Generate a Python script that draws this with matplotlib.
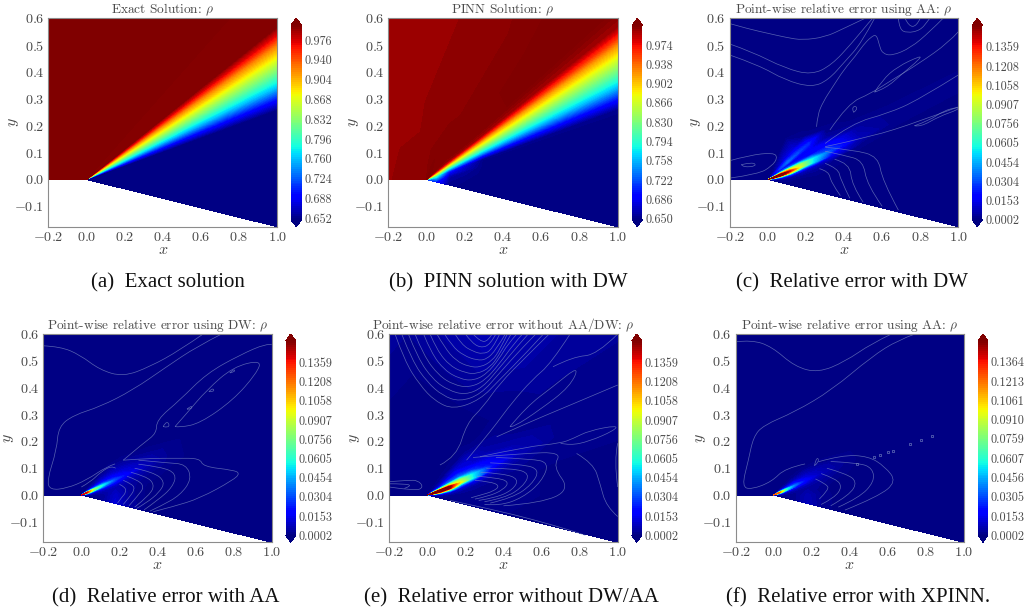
import matplotlib

matplotlib.use("Agg")
import matplotlib.pyplot as plt
from matplotlib.patches import PathPatch
from matplotlib.path import Path
import numpy as np

plt.rcParams["font.family"] = ["cmr10", "DejaVu Serif"]
plt.rcParams["mathtext.fontset"] = "cm"
plt.rcParams["axes.formatter.use_mathtext"] = True
plt.rcParams["axes.unicode_minus"] = False

FIG_W, FIG_H = 1025, 610
TEXT_GREY = "#4a4a4a"
SPINE_GREY = "#8c8c8c"
LINE_BLUE = "#7d8cc4"

X_TICKS = [-0.2, 0.0, 0.2, 0.4, 0.6, 0.8, 1.0]
Y_TICKS = [-0.1, 0.0, 0.1, 0.2, 0.3, 0.4, 0.5, 0.6]

TITLES = [
    "Exact Solution: $\\rho$",
    "PINN Solution: $\\rho$",
    "Point-wise relative error using AA: $\\rho$",
    "Point-wise relative error using DW: $\\rho$",
    "Point-wise relative error without AA/DW: $\\rho$",
    "Point-wise relative error using AA: $\\rho$",
]
CAPTIONS = [
    "(a)  Exact solution",
    "(b)  PINN solution with DW",
    "(c)  Relative error with DW",
    "(d)  Relative error with AA",
    "(e)  Relative error without DW/AA",
    "(f)  Relative error with XPINN.",
]

CBAR_A = ["0.652", "0.688", "0.724", "0.760", "0.796", "0.832", "0.868", "0.904", "0.940", "0.976"]
CBAR_B = ["0.650", "0.686", "0.722", "0.758", "0.794", "0.830", "0.866", "0.902", "0.938", "0.974"]
CBAR_ERR = ["0.0002", "0.0153", "0.0304", "0.0454", "0.0605", "0.0756", "0.0907", "0.1058", "0.1208", "0.1359"]
CBAR_F = ["0.0002", "0.0153", "0.0305", "0.0456", "0.0607", "0.0759", "0.0910", "0.1061", "0.1213", "0.1364"]

# colour range of each panel
V_RANGE = [(0.649, 1.003), (0.648, 1.011), (0.0, 0.153), (0.0, 0.153), (0.0, 0.153), (0.0, 0.153)]

# density against angle round the wedge tip (degrees), panel a
EXACT_ANGLES = [-10, 14.6, 16.4, 19, 21.8, 24.2, 26.6, 27.9, 29.7, 60, 100, 140, 180]
EXACT_RHO = [0.652, 0.652, 0.69, 0.76, 0.82, 0.87, 0.92, 0.96, 1.0, 1.01, 1.01, 1.01, 1.01]

# panel b, rows are radii, columns angles
PINN_RADII = [0, 0.05, 0.12, 0.3, 0.7, 2]
PINN_ANGLES = [-10, 5, 10, 14.6, 16.4, 19, 21.8, 24.2, 26.6, 27.9, 29.7, 33, 40, 60, 100, 140, 180]
PINN_RHO = [
    [0.72, 0.78, 0.8, 0.82, 0.84, 0.86, 0.88, 0.9, 0.93, 0.95, 0.97, 1.0, 1.01, 1.012, 1.004, 1.004, 1.004],
    [0.7, 0.75, 0.78, 0.8, 0.82, 0.85, 0.87, 0.9, 0.93, 0.95, 0.97, 1.0, 1.01, 1.012, 1.004, 1.004, 1.004],
    [0.652, 0.66, 0.68, 0.71, 0.74, 0.78, 0.83, 0.875, 0.92, 0.95, 0.98, 1.005, 1.01, 1.01, 1.004, 1.004, 1.004],
    [0.65, 0.65, 0.65, 0.652, 0.69, 0.76, 0.82, 0.87, 0.92, 0.96, 1.0, 1.01, 1.01, 1.006, 1.003, 1.003, 1.003],
    [0.65, 0.65, 0.65, 0.652, 0.69, 0.76, 0.82, 0.87, 0.92, 0.96, 1.0, 1.012, 1.012, 1.004, 1.003, 1.003, 1.003],
    [0.65, 0.65, 0.65, 0.652, 0.69, 0.76, 0.82, 0.87, 0.92, 0.96, 1.0, 1.012, 1.012, 1.01, 1.003, 1.003, 1.003],
]

# relative error, panels c to f share this polar grid
ERR_RADII = [0, 0.03, 0.07, 0.12, 0.18, 0.25, 0.35, 0.5, 0.7, 2]
ERR_ANGLES = [-10, 0, 5, 9, 12, 15, 18, 22, 27, 32, 40, 60, 100, 180]
ERR_C = [
    [0.0004, 0.02, 0.06, 0.14, 0.16, 0.16, 0.08, 0.02, 0.006, 0.003, 0.0004, 0.0004, 0.0004, 0.0004],
    [0.0004, 0.01, 0.04, 0.12, 0.165, 0.165, 0.09, 0.03, 0.012, 0.012, 0.003, 0.0004, 0.0004, 0.0004],
    [0.0004, 0.003, 0.015, 0.07, 0.155, 0.165, 0.12, 0.04, 0.014, 0.026, 0.008, 0.0004, 0.0004, 0.0004],
    [0.0004, 0.002, 0.005, 0.03, 0.1, 0.14, 0.1, 0.035, 0.014, 0.035, 0.014, 0.0004, 0.0004, 0.0004],
    [0.0004, 0.0004, 0.003, 0.008, 0.03, 0.09, 0.085, 0.025, 0.012, 0.03, 0.012, 0.0004, 0.0004, 0.0004],
    [0.0004, 0.0004, 0.002, 0.004, 0.01, 0.05, 0.055, 0.02, 0.016, 0.025, 0.002, 0.0004, 0.0004, 0.0004],
    [0.0004, 0.0004, 0.0004, 0.002, 0.003, 0.015, 0.03, 0.02, 0.004, 0.002, 0.0004, 0.0004, 0.0004, 0.0004],
    [0.0004, 0.0004, 0.0004, 0.0004, 0.001, 0.002, 0.008, 0.005, 0.001, 0.0004, 0.0004, 0.0004, 0.0004, 0.0004],
    [0.0004, 0.0004, 0.0004, 0.0004, 0.0004, 0.001, 0.002, 0.002, 0.0004, 0.0004, 0.0004, 0.0004, 0.0004, 0.0004],
    [0.0004, 0.0004, 0.0004, 0.0004, 0.0004, 0.0004, 0.0004, 0.0004, 0.0004, 0.0004, 0.0004, 0.0004, 0.0004, 0.0004],
]
ERR_D = [
    [0.0004, 0.01, 0.03, 0.07, 0.12, 0.15, 0.14, 0.06, 0.01, 0.003, 0.0004, 0.0004, 0.0004, 0.0004],
    [0.0004, 0.005, 0.015, 0.04, 0.08, 0.13, 0.14, 0.06, 0.012, 0.004, 0.0004, 0.0004, 0.0004, 0.0004],
    [0.0004, 0.002, 0.006, 0.012, 0.03, 0.065, 0.08, 0.03, 0.01, 0.004, 0.0004, 0.0004, 0.0004, 0.0004],
    [0.004, 0.004, 0.005, 0.008, 0.015, 0.035, 0.055, 0.025, 0.012, 0.006, 0.0004, 0.0004, 0.0004, 0.0004],
    [0.012, 0.01, 0.008, 0.007, 0.01, 0.02, 0.032, 0.018, 0.01, 0.005, 0.0004, 0.0004, 0.0004, 0.0004],
    [0.005, 0.004, 0.004, 0.004, 0.006, 0.01, 0.018, 0.012, 0.006, 0.002, 0.0004, 0.0004, 0.0004, 0.0004],
    [0.001, 0.001, 0.001, 0.002, 0.003, 0.005, 0.008, 0.006, 0.002, 0.0004, 0.0004, 0.0004, 0.0004, 0.0004],
    [0.0004, 0.0004, 0.0004, 0.0004, 0.001, 0.002, 0.002, 0.002, 0.0004, 0.0004, 0.0004, 0.0004, 0.0004, 0.0004],
    [0.0004, 0.0004, 0.0004, 0.0004, 0.0004, 0.0004, 0.0004, 0.0004, 0.0004, 0.0004, 0.0004, 0.0004, 0.0004, 0.0004],
    [0.0004, 0.0004, 0.0004, 0.0004, 0.0004, 0.0004, 0.0004, 0.0004, 0.0004, 0.0004, 0.0004, 0.0004, 0.0004, 0.0004],
]
ERR_E = [
    [0.0004, 0.02, 0.1, 0.16, 0.17, 0.15, 0.08, 0.02, 0.008, 0.003, 0.0004, 0.0004, 0.0004, 0.0004],
    [0.0004, 0.012, 0.07, 0.15, 0.17, 0.16, 0.09, 0.03, 0.01, 0.004, 0.002, 0.0004, 0.0004, 0.0004],
    [0.0004, 0.005, 0.03, 0.13, 0.165, 0.16, 0.09, 0.03, 0.012, 0.006, 0.002, 0.0004, 0.0004, 0.0004],
    [0.0004, 0.002, 0.01, 0.06, 0.15, 0.155, 0.09, 0.035, 0.02, 0.01, 0.002, 0.0004, 0.0004, 0.0004],
    [0.002, 0.002, 0.004, 0.012, 0.04, 0.1, 0.085, 0.035, 0.02, 0.012, 0.002, 0.0004, 0.0004, 0.0004],
    [0.002, 0.002, 0.003, 0.005, 0.015, 0.055, 0.055, 0.025, 0.012, 0.01, 0.002, 0.0004, 0.0004, 0.0004],
    [0.002, 0.002, 0.002, 0.003, 0.005, 0.012, 0.022, 0.015, 0.006, 0.004, 0.001, 0.001, 0.0004, 0.0004],
    [0.001, 0.002, 0.002, 0.002, 0.003, 0.004, 0.008, 0.006, 0.003, 0.002, 0.002, 0.004, 0.002, 0.0004],
    [0.0004, 0.001, 0.001, 0.001, 0.002, 0.002, 0.003, 0.003, 0.003, 0.003, 0.004, 0.008, 0.004, 0.002],
    [0.0004, 0.001, 0.001, 0.001, 0.001, 0.001, 0.002, 0.002, 0.003, 0.004, 0.006, 0.008, 0.004, 0.002],
]
ERR_F = [
    [0.0004, 0.008, 0.02, 0.05, 0.1, 0.13, 0.12, 0.05, 0.008, 0.002, 0.0004, 0.0004, 0.0004, 0.0004],
    [0.0004, 0.004, 0.012, 0.03, 0.065, 0.115, 0.125, 0.05, 0.01, 0.003, 0.0004, 0.0004, 0.0004, 0.0004],
    [0.0004, 0.002, 0.004, 0.008, 0.02, 0.05, 0.06, 0.025, 0.008, 0.003, 0.0004, 0.0004, 0.0004, 0.0004],
    [0.003, 0.003, 0.003, 0.005, 0.01, 0.022, 0.035, 0.02, 0.008, 0.003, 0.0004, 0.0004, 0.0004, 0.0004],
    [0.008, 0.007, 0.005, 0.004, 0.006, 0.012, 0.018, 0.012, 0.006, 0.002, 0.0004, 0.0004, 0.0004, 0.0004],
    [0.003, 0.003, 0.002, 0.003, 0.004, 0.006, 0.009, 0.007, 0.003, 0.0004, 0.0004, 0.0004, 0.0004, 0.0004],
    [0.0004, 0.0004, 0.0004, 0.0004, 0.002, 0.003, 0.004, 0.003, 0.0004, 0.0004, 0.0004, 0.0004, 0.0004, 0.0004],
    [0.0004, 0.0004, 0.0004, 0.0004, 0.0004, 0.0004, 0.0004, 0.0004, 0.0004, 0.0004, 0.0004, 0.0004, 0.0004, 0.0004],
    [0.0004, 0.0004, 0.0004, 0.0004, 0.0004, 0.0004, 0.0004, 0.0004, 0.0004, 0.0004, 0.0004, 0.0004, 0.0004, 0.0004],
    [0.0004, 0.0004, 0.0004, 0.0004, 0.0004, 0.0004, 0.0004, 0.0004, 0.0004, 0.0004, 0.0004, 0.0004, 0.0004, 0.0004],
]

# thin contour lines, (x, y)
LINES_C = [
    [(-0.2, 0.58), (-0.1, 0.56), (0, 0.544), (0.1, 0.528), (0.18, 0.519), (0.3, 0.53), (0.4, 0.563), (0.51, 0.6)],
    [(-0.2, 0.504), (-0.086, 0.476), (0.089, 0.414), (0.229, 0.389), (0.334, 0.426), (0.44, 0.507), (0.536, 0.59), (0.55, 0.6)],
    [(-0.2, 0.463), (-0.05, 0.426), (0.089, 0.37), (0.229, 0.343), (0.317, 0.37), (0.404, 0.439), (0.49, 0.507), (0.56, 0.6)],
    [(0.685, 0.6), (0.69, 0.56), (0.73, 0.545), (0.8, 0.555), (0.84, 0.59), (0.85, 0.6)],
    [(0.72, 0.6), (0.74, 0.57), (0.78, 0.57), (0.8, 0.6)],
    [(0.255, 0.196), (0.26, 0.24), (0.29, 0.29), (0.34, 0.345), (0.4, 0.41), (0.46, 0.46), (0.5, 0.5), (0.54, 0.53), (0.57, 0.54),
     (0.585, 0.5), (0.6, 0.47), (0.65, 0.46), (0.75, 0.49), (0.85, 0.55), (0.92, 0.6)],
    [(0.325, 0.184), (0.42, 0.283), (0.54, 0.32), (0.65, 0.37), (0.79, 0.43), (0.95, 0.51), (1.0, 0.55)],
    [(0.45, 0.25), (0.47, 0.26), (0.46, 0.275), (0.44, 0.265), (0.45, 0.25)],
    [(0.56, 0.325), (0.6, 0.37), (0.68, 0.42), (0.8, 0.46), (0.8, 0.45), (0.7, 0.39), (0.62, 0.34), (0.56, 0.325)],
    [(0.3, 0.134), (0.44, 0.209), (0.63, 0.246), (0.79, 0.296), (1.0, 0.389)],
    [(0.77, 0.2), (0.85, 0.22), (0.92, 0.255), (1.0, 0.27), (1.0, 0.26), (0.9, 0.235), (0.8, 0.195), (0.77, 0.2)],
    [(0.3, 0.122), (0.545, 0.159), (0.79, 0.215), (1.0, 0.27)],
    [(0.685, -0.114), (0.6, -0.003), (0.58, 0.085), (0.45, 0.11), (0.3, 0.12)],
    [(0.6, -0.1), (0.52, -0.02), (0.5, 0.07), (0.4, 0.09), (0.3, 0.105)],
    [(0.5, -0.085), (0.44, -0.02), (0.43, 0.06), (0.35, 0.075)],
    [(0.43, -0.07), (0.38, 0), (0.37, 0.04), (0.3, 0.06)],
    [(0.38, -0.06), (0.33, -0.01), (0.32, 0.03), (0.27, 0.04)],
    [(-0.2, 0.07), (-0.1, 0.09), (0.03, 0.1), (0.05, 0.08), (0.02, 0.05), (-0.05, 0.02), (-0.2, 0.005)],
    [(-0.14, 0.055), (-0.08, 0.065), (-0.06, 0.05), (-0.13, 0.045), (-0.14, 0.055)],
]
LINES_D = [
    [(-0.2, 0.556), (-0.11, 0.553), (-0.007, 0.522), (0.098, 0.466), (0.22, 0.441), (0.36, 0.478), (0.518, 0.54), (0.64, 0.6)],
    [(0.177, 0.116), (0.133, 0.106), (0.028, 0.056), (-0.077, 0.025), (-0.165, 0.019), (-0.18, 0.056), (-0.13, 0.168), (-0.12, 0.255),
     (-0.04, 0.298), (0.098, 0.329), (0.27, 0.391), (0.448, 0.478), (0.606, 0.553), (0.737, 0.6)],
    [(0.22, 0.13), (0.325, 0.193), (0.395, 0.23), (0.395, 0.28), (0.518, 0.354), (0.658, 0.453), (0.833, 0.522), (0.973, 0.565), (1.0, 0.56)],
    [(0.492, 0.255), (0.553, 0.304), (0.658, 0.391), (0.798, 0.478), (0.947, 0.503), (0.92, 0.453), (0.798, 0.354), (0.623, 0.267),
     (0.518, 0.252), (0.492, 0.255)],
    [(0.43, 0.255), (0.46, 0.25), (0.46, 0.27), (0.44, 0.27), (0.43, 0.255)],
    [(0.555, 0.32), (0.58, 0.32), (0.58, 0.335), (0.555, 0.32)],
    [(0.67, 0.385), (0.7, 0.385), (0.69, 0.4), (0.67, 0.385)],
    [(0.78, 0.455), (0.81, 0.46), (0.8, 0.47), (0.78, 0.455)],
    [(0.22, 0.13), (0.36, 0.137), (0.5, 0.137), (0.623, 0.137), (0.64, 0.106), (0.798, 0.093), (0.833, 0.081), (0.798, 0.056),
     (0.623, -0.012), (0.483, -0.043), (0.378, -0.062)],
    [(0.3, 0.13), (0.45, 0.12), (0.55, 0.115), (0.58, 0.06), (0.52, 0), (0.42, -0.04), (0.36, -0.06)],
    [(0.3, 0.115), (0.42, 0.105), (0.5, 0.08), (0.48, 0.03), (0.4, -0.02), (0.33, -0.055)],
    [(0.28, 0.1), (0.38, 0.085), (0.44, 0.05), (0.41, 0.01), (0.34, -0.03), (0.29, -0.05)],
    [(0.26, 0.085), (0.34, 0.07), (0.385, 0.04), (0.36, 0), (0.28, -0.045)],
    [(0.24, 0.07), (0.3, 0.055), (0.33, 0.03), (0.3, 0), (0.25, -0.04)],
    [(0.22, 0.055), (0.27, 0.04), (0.28, 0.02), (0.25, -0.01), (0.22, -0.035)],
    [(0.2, 0.04), (0.23, 0.03), (0.235, 0.01), (0.21, -0.01), (0.19, -0.03)],
    [(0.0, 0.03), (0.05, 0.05), (0.1, 0.085), (0.16, 0.11), (0.18, 0.1)],
]
LINES_E = [
    [(-0.17, 0.6), (-0.12, 0.5), (-0.04, 0.41), (0.04, 0.35), (0.136, 0.319), (0.276, 0.354), (0.38, 0.43), (0.52, 0.53), (0.61, 0.6)],
    [(-0.135, 0.6), (-0.08, 0.5), (0, 0.42), (0.08, 0.37), (0.17, 0.348), (0.28, 0.375), (0.38, 0.455), (0.5, 0.55), (0.57, 0.6)],
    [(-0.1, 0.6), (-0.05, 0.51), (0.03, 0.43), (0.11, 0.39), (0.2, 0.373), (0.29, 0.4), (0.38, 0.475), (0.48, 0.56), (0.53, 0.6)],
    [(-0.065, 0.6), (-0.02, 0.52), (0.06, 0.445), (0.14, 0.41), (0.22, 0.401), (0.3, 0.425), (0.38, 0.49), (0.45, 0.56), (0.5, 0.6)],
    [(-0.02, 0.6), (0.02, 0.53), (0.09, 0.465), (0.17, 0.433), (0.24, 0.426), (0.31, 0.45), (0.38, 0.51), (0.42, 0.56), (0.47, 0.6)],
    [(0.014, 0.6), (0.05, 0.54), (0.12, 0.48), (0.2, 0.455), (0.26, 0.451), (0.33, 0.475), (0.38, 0.525), (0.44, 0.6)],
    [(0.05, 0.6), (0.09, 0.55), (0.15, 0.5), (0.22, 0.478), (0.28, 0.476), (0.34, 0.5), (0.38, 0.54), (0.42, 0.6)],
    [(0.09, 0.6), (0.13, 0.555), (0.19, 0.52), (0.26, 0.502), (0.31, 0.505), (0.36, 0.54), (0.41, 0.6)],
    [(0.145, 0.6), (0.18, 0.56), (0.24, 0.535), (0.29, 0.525), (0.34, 0.54), (0.38, 0.6)],
    [(0.2, 0.6), (0.23, 0.57), (0.28, 0.548), (0.33, 0.56), (0.36, 0.6)],
    [(0.24, 0.6), (0.28, 0.57), (0.32, 0.575), (0.34, 0.6)],
    [(0.066, 0.112), (0.154, 0.143), (0.206, 0.267), (0.294, 0.329), (0.38, 0.416), (0.52, 0.516), (0.64, 0.6)],
    [(0.206, 0.13), (0.294, 0.205), (0.364, 0.267), (0.44, 0.34), (0.55, 0.43), (0.65, 0.49), (0.75, 0.6)],
    [(0.434, 0.255), (0.52, 0.329), (0.66, 0.404), (0.8, 0.484), (0.75, 0.404), (0.59, 0.317), (0.45, 0.252), (0.434, 0.255)],
    [(0.66, 0.478), (0.767, 0.516), (0.89, 0.522), (1.0, 0.6)],
    [(0.364, 0.217), (0.52, 0.267), (0.73, 0.329), (1.0, 0.41)],
    [(0.276, 0.143), (0.52, 0.18), (0.7, 0.193), (0.767, 0.211), (0.85, 0.24), (1.0, 0.26), (0.98, 0.24), (0.85, 0.2), (0.75, 0.185), (0.7, 0.193)],
    [(0.784, 0.155), (0.872, 0.118), (0.907, 0.043), (0.94, -0.043), (1.0, -0.08)],
    [(1.0, 0.193), (0.98, 0.13), (1.0, 0.03)],
    [(0.24, 0.14), (0.5, 0.155), (0.706, 0.16), (0.66, 0.106), (0.75, 0.02), (0.6, -0.03), (0.4, -0.04)],
    [(0.12, -0.02), (0.35, -0.055), (0.55, -0.09), (0.78, -0.137), (0.83, -0.15)],
    [(0.36, 0.14), (0.55, 0.135), (0.64, 0.12), (0.6, 0.05), (0.5, -0.01), (0.38, -0.04), (0.3, -0.035)],
    [(0.33, 0.12), (0.5, 0.115), (0.59, 0.095), (0.55, 0.04), (0.45, -0.01), (0.33, -0.03)],
    [(0.31, 0.1), (0.45, 0.1), (0.54, 0.08), (0.5, 0.03), (0.41, -0.01), (0.3, -0.025)],
    [(0.28, 0.085), (0.4, 0.08), (0.48, 0.06), (0.45, 0.02), (0.36, -0.01), (0.27, -0.02)],
    [(0.26, 0.07), (0.36, 0.065), (0.43, 0.05), (0.4, 0.02), (0.32, -0.005), (0.25, -0.015)],
    [(0.25, 0.055), (0.33, 0.05), (0.38, 0.035), (0.35, 0.015), (0.28, 0), (0.23, -0.01)],
    [(-0.2, 0.05), (-0.1, 0.055), (-0.05, 0.055), (-0.02, 0.03), (-0.06, 0.015), (-0.2, 0.03)],
    [(-0.2, 0.042), (-0.12, 0.042), (-0.08, 0.035), (-0.12, 0.025)],
]
LINES_F = [
    [(-0.2, 0.571), (-0.116, 0.578), (-0.01, 0.553), (0.112, 0.478), (0.235, 0.456), (0.375, 0.497), (0.516, 0.565), (0.62, 0.6)],
    [(0.165, 0.116), (0.06, 0.1), (-0.01, 0.05), (-0.116, 0.021), (-0.168, 0.031), (-0.133, 0.13), (-0.107, 0.217), (-0.054, 0.26),
     (0.112, 0.31), (0.305, 0.391), (0.516, 0.516), (0.656, 0.578), (0.744, 0.6)],
    [(0.215, 0.11), (0.235, 0.12), (0.235, 0.14), (0.22, 0.13), (0.215, 0.11)],
    [(0.235, 0.124), (0.358, 0.149), (0.498, 0.145), (0.586, 0.106), (0.647, 0.05), (0.55, -0.006), (0.375, -0.056)],
    [(0.3, 0.125), (0.45, 0.12), (0.52, 0.1), (0.53, 0.05), (0.45, -0.01), (0.34, -0.045)],
    [(0.28, 0.1), (0.38, 0.08), (0.44, 0.05), (0.4, 0), (0.3, -0.04)],
    [(0.25, 0.08), (0.33, 0.06), (0.36, 0.03), (0.32, -0.01), (0.25, -0.035)],
    [(0.22, 0.06), (0.28, 0.04), (0.29, 0.02), (0.24, -0.015)],
]
DOTS_F_X = [0.44, 0.53, 0.56, 0.6, 0.63, 0.715, 0.775, 0.835]
DOTS_F_Y = [0.115, 0.14, 0.15, 0.16, 0.165, 0.19, 0.205, 0.22]

# layout in pixels: axes left, right, top, bottom and colour bar left, right
AXES_PX = [
    (48.3, 277.3, 18.3, 226.7, 291, 301.5),
    (388.3, 617.7, 18.3, 226.7, 632.3, 642.3),
    (730, 958.3, 18.3, 226.7, 972.3, 982.3),
    (43.3, 271.7, 334, 542.3, 285.7, 295.7),
    (389.3, 617.7, 334, 542.3, 631.7, 641.7),
    (735.7, 963.7, 334, 542.3, 978.3, 987.7),
]
CAPTION_PX = [(168, 282.5), (508, 282.5), (852, 282.5), (165.5, 597.5), (511.7, 597.5), (857.8, 597.5)]


def polar_mesh(radii, angles):
    rad, ang = np.meshgrid(radii, np.radians(angles))
    return rad.T * np.cos(ang.T), rad.T * np.sin(ang.T)


def px_box(left, right, top, bottom):
    return [left / FIG_W, 1 - bottom / FIG_H, (right - left) / FIG_W, (bottom - top) / FIG_H]


# Traced points become control points of a quadratic curve, so lines stay round
def traced_path(points):
    pts = np.asarray(points, dtype=float)
    verts = [pts[0]]
    codes = [Path.MOVETO]
    for k in range(1, len(pts) - 1):
        end = pts[k + 1] if k == len(pts) - 2 else (pts[k] + pts[k + 1]) / 2
        verts += [pts[k], end]
        codes += [Path.CURVE3, Path.CURVE3]
    if len(pts) == 2:
        verts.append(pts[1])
        codes.append(Path.LINETO)
    return Path(verts, codes)


fig = plt.figure(figsize=(FIG_W / 100, FIG_H / 100), dpi=100)

exact_radii = [0, 2]
fields = [
    (exact_radii, EXACT_ANGLES, np.tile(EXACT_RHO, (2, 1))),
    (PINN_RADII, PINN_ANGLES, np.array(PINN_RHO)),
    (ERR_RADII, ERR_ANGLES, np.array(ERR_C)),
    (ERR_RADII, ERR_ANGLES, np.array(ERR_D)),
    (ERR_RADII, ERR_ANGLES, np.array(ERR_E)),
    (ERR_RADII, ERR_ANGLES, np.array(ERR_F)),
]
cbar_labels = [CBAR_A, CBAR_B, CBAR_ERR, CBAR_ERR, CBAR_ERR, CBAR_F]
lines = [[], [], LINES_C, LINES_D, LINES_E, LINES_F]

for i, (radii, angles, values) in enumerate(fields):
    left, right, top, bottom, c_left, c_right = AXES_PX[i]
    ax = fig.add_axes(px_box(left, right, top, bottom))
    cax = fig.add_axes(px_box(c_left, c_right, top, bottom))

    X, Y = polar_mesh(radii, angles)
    lo, hi = V_RANGE[i]
    levels = np.linspace(lo, hi, 100)
    cf = ax.contourf(X, Y, values, levels=levels, cmap="jet", extend="both")

    for line in lines[i]:
        ax.add_patch(PathPatch(traced_path(line), fill=False, ec=LINE_BLUE, lw=0.5, alpha=0.7))
    if i == 5:
        ax.plot(DOTS_F_X, DOTS_F_Y, "o", mfc="none", mec=LINE_BLUE, ms=1.8, mew=0.4)

    ax.set_xlim(-0.2, 1.0)
    ax.set_ylim(-0.176, 0.6)
    ax.set_xticks(X_TICKS)
    ax.set_yticks(Y_TICKS)
    ax.set_xticklabels([f"${v:.1f}$" for v in X_TICKS])
    ax.set_yticklabels([f"${v:.1f}$" for v in Y_TICKS])
    ax.tick_params(length=0, pad=3, labelsize=10.2, labelcolor=TEXT_GREY)
    for spine in ax.spines.values():
        spine.set_color(SPINE_GREY)
    ax.set_xlabel("$x$", fontsize=11.5, color=TEXT_GREY)
    ax.set_ylabel("$y$", fontsize=11.5, color=TEXT_GREY)
    ax.xaxis.set_label_coords(0.5, -0.078)
    ax.yaxis.set_label_coords(-0.12, 0.5)
    ax.set_title(TITLES[i], fontsize=9.6, color=TEXT_GREY, pad=-1.5)

    cb = fig.colorbar(cf, cax=cax, extendfrac=0.035)
    labels = cbar_labels[i]
    cb.set_ticks([float(v) for v in labels])
    cb.set_ticklabels(labels)
    cb.ax.tick_params(length=0, pad=2, labelsize=8.8, labelcolor=TEXT_GREY)
    cb.outline.set_visible(False)

    cap_x, cap_y = CAPTION_PX[i]
    fig.text(cap_x / FIG_W, 1 - cap_y / FIG_H, CAPTIONS[i], family="Liberation Serif", fontsize=15,
             color="#111111", ha="center", va="center")

fig.savefig("out.png", dpi=100)
